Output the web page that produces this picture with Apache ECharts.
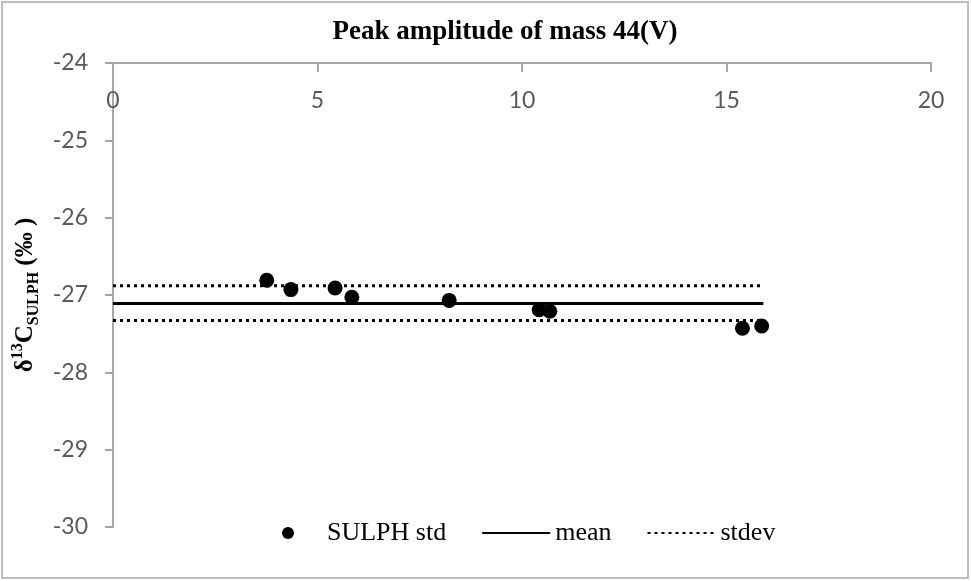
<!DOCTYPE html>
<html>
<head>
<meta charset="utf-8">
<script src="https://cdn.jsdelivr.net/npm/echarts@6/dist/echarts.min.js"></script>
<style>
  html, body { margin: 0; padding: 0; background: #fff; }
  #chart { width: 971px; height: 581px; }
</style>
</head>
<body>
<div id="chart"></div>
<script>
// peak amplitude (V) and delta 13C of the SULPH standard
const ampValues = [3.76, 4.35, 5.43, 5.84, 8.22, 10.42, 10.68, 15.39, 15.86];
const deltaValues = [-26.81, -26.93, -26.91, -27.03, -27.07, -27.19, -27.21, -27.43, -27.40];
const meanLine = [[0, -27.11], [15.9, -27.11]];
const stdevUpper = [[0, -26.88], [15.9, -26.88]];
const stdevLower = [[0, -27.33], [15.9, -27.33]];
const seriesNames = ['SULPH std', 'mean', 'stdev'];

const points = ampValues.map((x, i) => [x, deltaValues[i]]);

const chart = echarts.init(document.getElementById('chart'), null, { renderer: 'canvas' });

const axisGray = '#a6a6a6';
const labelGray = '#595959';
const serif = '"Liberation Serif", "DejaVu Serif", serif';
const sans = 'Lato, "Open Sans", sans-serif';

const dotted = { color: '#000', width: 3, type: [3, 4] };
const nameBig = { fontFamily: serif, fontWeight: 'bold', fontSize: 25, color: '#000', lineHeight: 32, verticalAlign: 'middle' };
const nameSmall = { fontFamily: serif, fontWeight: 'bold', fontSize: 16, color: '#000', lineHeight: 32 };

chart.setOption({
    animation: false,
    title: {
        text: 'Peak amplitude of mass 44(V)',
        left: 500,
        textAlign: 'center',
        top: 14,
        textStyle: { fontFamily: serif, fontWeight: 'bold', fontSize: 27, color: '#000' }
    },
    graphic: [{
        type: 'rect',
        shape: { x: 2, y: 2, width: 966, height: 576 },
        style: { fill: 'none', stroke: '#bdbdbd', lineWidth: 2 }
    }],
    legend: {
        data: seriesNames,
        bottom: 30,
        left: 277,
        itemWidth: 68,
        itemHeight: 12,
        itemGap: 35,
        textStyle: { fontFamily: serif, fontSize: 26, color: '#000' }
    },
    grid: { left: 113, right: 40, top: 63, bottom: 54 },
    xAxis: {
        type: 'value',
        position: 'top',
        min: 0,
        max: 20,
        interval: 5,
        axisLine: { onZero: false, lineStyle: { color: axisGray, width: 2 } },
        axisTick: { inside: true, length: 9, lineStyle: { color: axisGray, width: 2 } },
        axisLabel: { inside: true, margin: 26, fontFamily: sans, fontSize: 23, color: labelGray },
        splitLine: { show: false }
    },
    yAxis: {
        type: 'value',
        min: -30,
        max: -24,
        interval: 1,
        name: '{d|δ}{sup|13}{c|C}{sub|SULPH}{p| (‰ )}',
        nameLocation: 'middle',
        nameRotate: 90,
        nameGap: 68,
        nameTextStyle: {
            rich: {
                d: nameBig,
                c: nameBig,
                p: nameBig,
                sup: Object.assign({}, nameSmall, { verticalAlign: 'top' }),
                sub: Object.assign({}, nameSmall, { verticalAlign: 'bottom' })
            }
        },
        axisLine: { show: true, lineStyle: { color: axisGray, width: 2 } },
        axisTick: { show: true, length: 8, lineStyle: { color: axisGray, width: 2 } },
        axisLabel: { margin: 25, fontFamily: sans, fontSize: 23, color: labelGray },
        splitLine: { show: false }
    },
    series: [
        {
            name: seriesNames[0],
            type: 'scatter',
            data: points,
            symbol: 'circle',
            symbolSize: 15,
            itemStyle: { color: '#000', opacity: 1 },
            z: 5
        },
        {
            name: seriesNames[1],
            type: 'line',
            data: meanLine,
            symbol: 'none',
            lineStyle: { color: '#000', width: 3 },
            itemStyle: { color: '#000', opacity: 0 }
        },
        {
            name: seriesNames[2],
            type: 'line',
            data: stdevUpper,
            symbol: 'none',
            lineStyle: dotted,
            itemStyle: { color: '#000', opacity: 0 }
        },
        {
            name: seriesNames[2],
            type: 'line',
            data: stdevLower,
            symbol: 'none',
            lineStyle: dotted,
            itemStyle: { color: '#000', opacity: 0 }
        }
    ]
});
</script>
</body>
</html>
